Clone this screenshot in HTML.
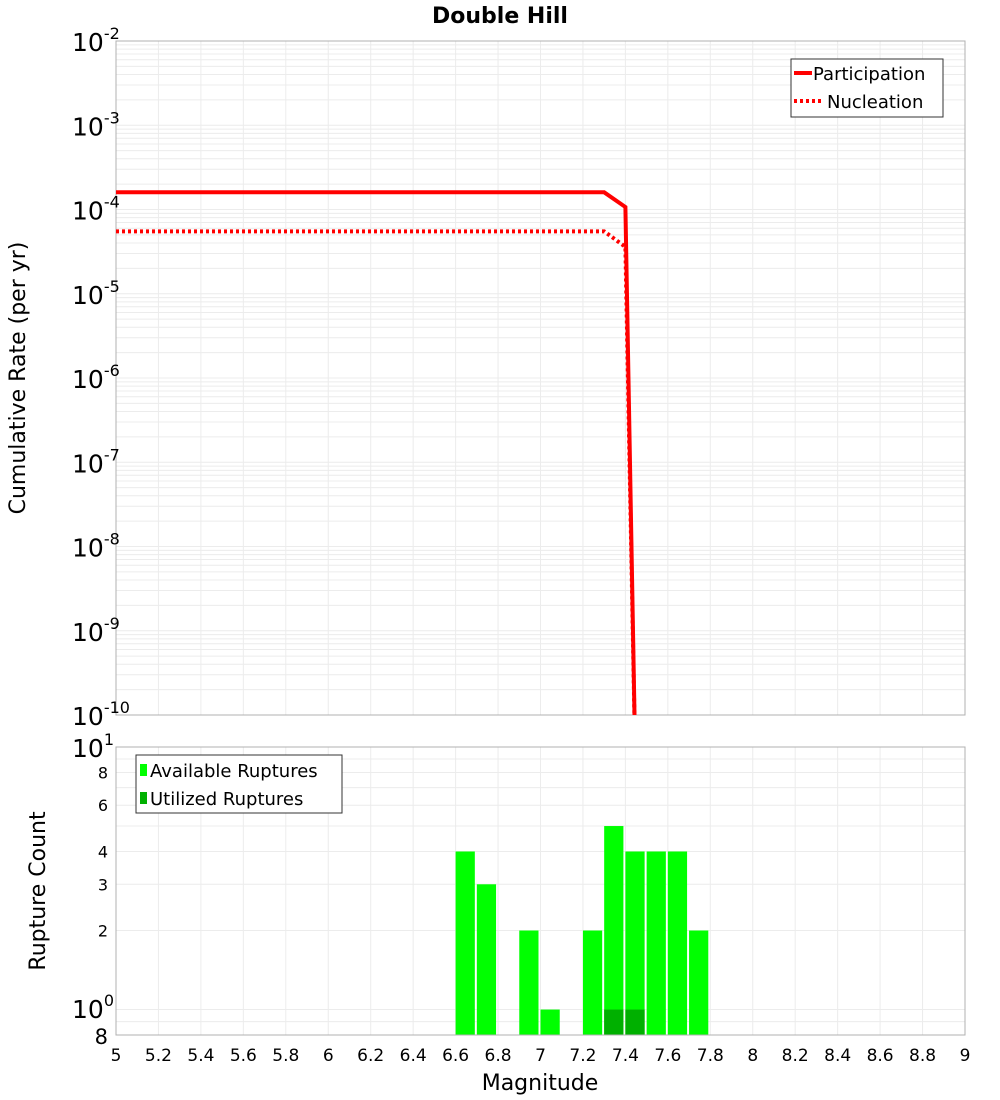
<!DOCTYPE html>
<html><head><meta charset="utf-8"><style>
body{margin:0;background:#fff;}
svg{display:block;font-family:"DejaVu Sans","Liberation Sans",sans-serif;}
</style></head><body>
<svg id="chart" width="1000" height="1100"></svg>
<script>
const partMags=[5,7.3,7.4,7.45];
const partVals=[1.6e-4,1.6e-4,1.07e-4,1e-11];
const nuclMags=[5,7.3,7.4,7.45];
const nuclVals=[5.5e-5,5.5e-5,3.6e-5,1e-11];
const binStarts=[6.6,6.7,6.9,7.0,7.2,7.3,7.4,7.5,7.6,7.7];
const availCounts=[4,3,2,1,2,5,4,4,4,2];
const utilStarts=[7.3,7.4];
const utilCounts=[1,1];
const xTicks=[5,5.2,5.4,5.6,5.8,6,6.2,6.4,6.6,6.8,7,7.2,7.4,7.6,7.8,8,8.2,8.4,8.6,8.8,9];
const topDecades=[-2,-3,-4,-5,-6,-7,-8,-9,-10];
const botTicks=[8,6,4,3,2];

const NS="http://www.w3.org/2000/svg";
const svg=document.getElementById('chart');
function el(t,a,p){const e=document.createElementNS(NS,t);for(const k in a)e.setAttribute(k,a[k]);(p||svg).appendChild(e);return e;}
const L=116,R=965;
const X=m=>L+(m-5)/(9-5)*(R-L);
const T0=41,T1=715;
const YT=v=>T0+(-2-Math.log10(v))/8*(T1-T0);
const B0=747,B1=1035;
const YB=v=>B0+(1-Math.log10(v))/(1-Math.log10(0.8))*(B1-B0);

let t=el('text',{x:500,y:23,'text-anchor':'middle','font-size':22,'font-weight':'bold'});t.textContent='Double Hill';


const gTop=el('g',{});
for(let d=-10;d<-2;d++)for(let k=1;k<10;k++){const y=YT(k*Math.pow(10,d));el('line',{x1:L,x2:R,y1:y,y2:y,stroke:'#ececec','stroke-width':1},gTop);}
xTicks.forEach(m=>el('line',{x1:X(m),x2:X(m),y1:T0,y2:T1,stroke:'#ececec'},gTop));
el('rect',{x:L,y:T0,width:R-L,height:T1-T0,fill:'none',stroke:'#b0b0b0'},gTop);
topDecades.forEach(d=>{const y=YT(Math.pow(10,d));const tx=el('text',{x:72,y:y+10,'font-size':25},gTop);
tx.innerHTML='10<tspan dy="-12" font-size="16">'+d+'</tspan>';});
const clip=el('clipPath',{id:'ctop'});el('rect',{x:L,y:T0,width:R-L,height:T1-T0},clip);
function path(ms,vs){return ms.map((m,i)=>(i?'L':'M')+X(m)+','+YT(vs[i])).join(' ');}
let p=el('path',{d:path(partMags,partVals),fill:'none',stroke:'#ff0000','stroke-width':4,'clip-path':'url(#ctop)'},gTop);

p=el('path',{d:path(nuclMags,nuclVals),fill:'none',stroke:'#ff0000','stroke-width':4,'stroke-dasharray':'3,3','clip-path':'url(#ctop)'},gTop);

t=el('text',{x:0,y:0,'font-size':22,transform:'translate(25,378) rotate(-90)','text-anchor':'middle'});t.textContent='Cumulative Rate (per yr)';

const lg=el('g',{});
el('rect',{x:791,y:59,width:152,height:58,fill:'#fff',stroke:'#333'},lg);
el('line',{x1:794,x2:812,y1:73,y2:73,stroke:'#f00','stroke-width':4},lg);
el('line',{x1:794,x2:822,y1:101,y2:101,stroke:'#f00','stroke-width':4,'stroke-dasharray':'3,3'},lg);
t=el('text',{x:813,y:80,'font-size':18},lg);t.textContent='Participation';
t=el('text',{x:827,y:108,'font-size':18},lg);t.textContent='Nucleation';

const gB=el('g',{});
[0.8,0.9,1,2,3,4,5,6,7,8,9].forEach(v=>el('line',{x1:L,x2:R,y1:YB(v),y2:YB(v),stroke:'#ececec'},gB));
xTicks.forEach(m=>el('line',{x1:X(m),x2:X(m),y1:B0,y2:B1,stroke:'#ececec'},gB));
binStarts.forEach((m,i)=>{const r=el('rect',{x:X(m),y:YB(availCounts[i]),width:X(m+0.1)-X(m)-2,height:B1-YB(availCounts[i]),fill:'#00ff00'},gB);
});
utilStarts.forEach((m,i)=>{const r=el('rect',{x:X(m),y:YB(utilCounts[i]),width:X(m+0.1)-X(m)-2,height:B1-YB(utilCounts[i]),fill:'#00b000'},gB);
});
el('rect',{x:L,y:B0,width:R-L,height:B1-B0,fill:'none',stroke:'#b0b0b0'},gB);
botTicks.forEach(v=>{const tx=el('text',{x:108,y:YB(v)+6,'font-size':16,'text-anchor':'end'},gB);tx.textContent=v;
});
t=el('text',{x:72,y:757,'font-size':25},gB);t.innerHTML='10<tspan dy="-12" font-size="16">1</tspan>';
t=el('text',{x:72,y:1018,'font-size':25},gB);t.innerHTML='10<tspan dy="-12" font-size="16">0</tspan>';
t=el('text',{x:108,y:1044,'font-size':21,'text-anchor':'end'},gB);t.textContent='8';
t=el('text',{x:0,y:0,'font-size':22,transform:'translate(45,891) rotate(-90)','text-anchor':'middle'});t.textContent='Rupture Count';

xTicks.forEach(m=>{const tx=el('text',{x:X(m),y:1061,'font-size':17,'text-anchor':'middle'});tx.textContent=String(m);
});
t=el('text',{x:540,y:1090,'font-size':22,'text-anchor':'middle'});t.textContent='Magnitude';

const lb=el('g',{});
el('rect',{x:136,y:755,width:206,height:58,fill:'#fff',stroke:'#333'},lb);
el('rect',{x:140,y:764,width:7,height:12,fill:'#00ff00'},lb);
el('rect',{x:140,y:792,width:7,height:12,fill:'#00b000'},lb);
t=el('text',{x:150,y:777,'font-size':18},lb);t.textContent='Available Ruptures';
t=el('text',{x:150,y:805,'font-size':18},lb);t.textContent='Utilized Ruptures';
</script>
</body></html>
